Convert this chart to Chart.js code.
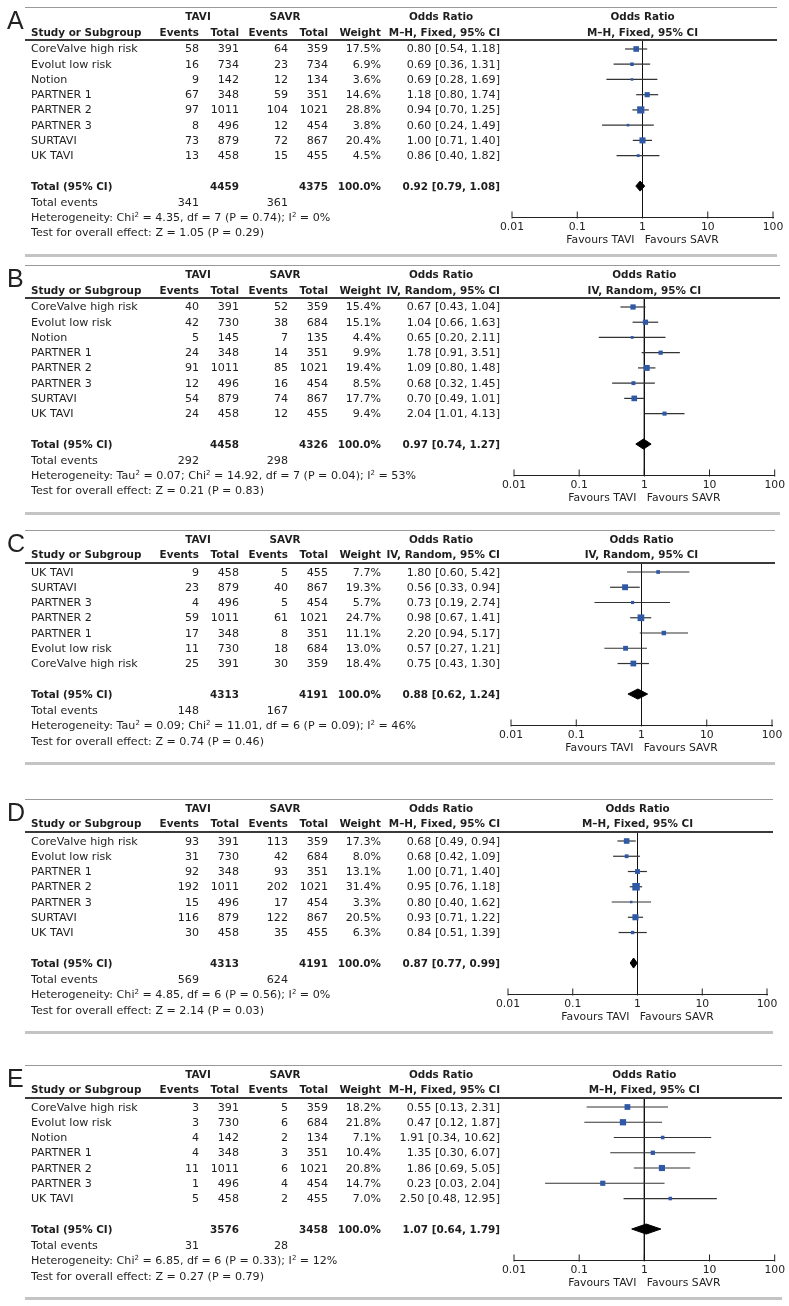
<!DOCTYPE html>
<html>
<head>
<meta charset="utf-8">
<script src="https://cdn.jsdelivr.net/npm/chart.js@4.4.0/dist/chart.umd.min.js"></script>
<style>
  body { margin: 0; background: #fff; }
  #page { position: relative; width: 789px; height: 1306px; overflow: hidden;
          font-family: "DejaVu Sans", sans-serif; font-size: 11.1px; color: #1e1e1e; }
  .t { position: absolute; white-space: nowrap; line-height: 13px; height: 13px; }
  .b { font-weight: bold; font-size: 10.4px; }
  .rule { position: absolute; }
  canvas { position: absolute; left: 0; }
  sup { font-size: 7px; line-height: 0; vertical-align: 4px; }
  .letter { position: absolute; font-family: "Liberation Sans", sans-serif; font-size: 25px; line-height: 26px; color: #222; }
</style>
</head>
<body>
<div id="page"></div>
<script>
// panel data, one inner list per panel (A..E)
const panelLetters = ['A', 'B', 'C', 'D', 'E'];
const methods = ['M\u2013H, Fixed, 95% CI', 'IV, Random, 95% CI', 'IV, Random, 95% CI', 'M\u2013H, Fixed, 95% CI', 'M\u2013H, Fixed, 95% CI'];

const studyNames = [
  ['CoreValve high risk', 'Evolut low risk', 'Notion', 'PARTNER 1', 'PARTNER 2', 'PARTNER 3', 'SURTAVI', 'UK TAVI'],
  ['CoreValve high risk', 'Evolut low risk', 'Notion', 'PARTNER 1', 'PARTNER 2', 'PARTNER 3', 'SURTAVI', 'UK TAVI'],
  ['UK TAVI', 'SURTAVI', 'PARTNER 3', 'PARTNER 2', 'PARTNER 1', 'Evolut low risk', 'CoreValve high risk'],
  ['CoreValve high risk', 'Evolut low risk', 'PARTNER 1', 'PARTNER 2', 'PARTNER 3', 'SURTAVI', 'UK TAVI'],
  ['CoreValve high risk', 'Evolut low risk', 'Notion', 'PARTNER 1', 'PARTNER 2', 'PARTNER 3', 'UK TAVI']
];
const taviEvents = [
  [58, 16, 9, 67, 97, 8, 73, 13],
  [40, 42, 5, 24, 91, 12, 54, 24],
  [9, 23, 4, 59, 17, 11, 25],
  [93, 31, 92, 192, 15, 116, 30],
  [3, 3, 4, 4, 11, 1, 5]
];
const taviTotals = [
  [391, 734, 142, 348, 1011, 496, 879, 458],
  [391, 730, 145, 348, 1011, 496, 879, 458],
  [458, 879, 496, 1011, 348, 730, 391],
  [391, 730, 348, 1011, 496, 879, 458],
  [391, 730, 142, 348, 1011, 496, 458]
];
const savrEvents = [
  [64, 23, 12, 59, 104, 12, 72, 15],
  [52, 38, 7, 14, 85, 16, 74, 12],
  [5, 40, 5, 61, 8, 18, 30],
  [113, 42, 93, 202, 17, 122, 35],
  [5, 6, 2, 3, 6, 4, 2]
];
const savrTotals = [
  [359, 734, 134, 351, 1021, 454, 867, 455],
  [359, 684, 135, 351, 1021, 454, 867, 455],
  [455, 867, 454, 1021, 351, 684, 359],
  [359, 684, 351, 1021, 454, 867, 455],
  [359, 684, 134, 351, 1021, 454, 455]
];
const weights = [
  [17.5, 6.9, 3.6, 14.6, 28.8, 3.8, 20.4, 4.5],
  [15.4, 15.1, 4.4, 9.9, 19.4, 8.5, 17.7, 9.4],
  [7.7, 19.3, 5.7, 24.7, 11.1, 13.0, 18.4],
  [17.3, 8.0, 13.1, 31.4, 3.3, 20.5, 6.3],
  [18.2, 21.8, 7.1, 10.4, 20.8, 14.7, 7.0]
];
const orValues = [
  [0.80, 0.69, 0.69, 1.18, 0.94, 0.60, 1.00, 0.86],
  [0.67, 1.04, 0.65, 1.78, 1.09, 0.68, 0.70, 2.04],
  [1.80, 0.56, 0.73, 0.98, 2.20, 0.57, 0.75],
  [0.68, 0.68, 1.00, 0.95, 0.80, 0.93, 0.84],
  [0.55, 0.47, 1.91, 1.35, 1.86, 0.23, 2.50]
];
const orLow = [
  [0.54, 0.36, 0.28, 0.80, 0.70, 0.24, 0.71, 0.40],
  [0.43, 0.66, 0.20, 0.91, 0.80, 0.32, 0.49, 1.01],
  [0.60, 0.33, 0.19, 0.67, 0.94, 0.27, 0.43],
  [0.49, 0.42, 0.71, 0.76, 0.40, 0.71, 0.51],
  [0.13, 0.12, 0.34, 0.30, 0.69, 0.03, 0.48]
];
const orHigh = [
  [1.18, 1.31, 1.69, 1.74, 1.25, 1.49, 1.40, 1.82],
  [1.04, 1.63, 2.11, 3.51, 1.48, 1.45, 1.01, 4.13],
  [5.42, 0.94, 2.74, 1.41, 5.17, 1.21, 1.30],
  [0.94, 1.09, 1.40, 1.18, 1.62, 1.22, 1.39],
  [2.31, 1.87, 10.62, 6.07, 5.05, 2.04, 12.95]
];

const totalTavi = [4459, 4458, 4313, 4313, 3576];
const totalSavr = [4375, 4326, 4191, 4191, 3458];
const totalEventsTavi = [341, 292, 148, 569, 31];
const totalEventsSavr = [361, 298, 167, 624, 28];
const totalOr = [0.92, 0.97, 0.88, 0.87, 1.07];
const totalLow = [0.79, 0.74, 0.62, 0.77, 0.64];
const totalHigh = [1.08, 1.27, 1.24, 0.99, 1.79];
const heterogeneity = [
  'Heterogeneity: Chi<sup>2</sup> = 4.35, df = 7 (P = 0.74); I<sup>2</sup> = 0%',
  'Heterogeneity: Tau<sup>2</sup> = 0.07; Chi<sup>2</sup> = 14.92, df = 7 (P = 0.04); I<sup>2</sup> = 53%',
  'Heterogeneity: Tau<sup>2</sup> = 0.09; Chi<sup>2</sup> = 11.01, df = 6 (P = 0.09); I<sup>2</sup> = 46%',
  'Heterogeneity: Chi<sup>2</sup> = 4.85, df = 6 (P = 0.56); I<sup>2</sup> = 0%',
  'Heterogeneity: Chi<sup>2</sup> = 6.85, df = 6 (P = 0.33); I<sup>2</sup> = 12%'
];
const overallEffect = [
  'Test for overall effect: Z = 1.05 (P = 0.29)',
  'Test for overall effect: Z = 0.21 (P = 0.83)',
  'Test for overall effect: Z = 0.74 (P = 0.46)',
  'Test for overall effect: Z = 2.14 (P = 0.03)',
  'Test for overall effect: Z = 0.27 (P = 0.79)'
];

const tickValues = [0.01, 0.1, 1, 10, 100];
const tickLabels = ['0.01', '0.1', '1', '10', '100'];
const axisTitle = 'Favours TAVI   Favours SAVR';

// layout (pixels)
const firstRowY = [49, 307, 572, 841, 1107];
const plotLeft = [512, 514, 511, 508, 514];
const plotRight = [773, 775, 772, 767, 779];
const ruleRight = [777, 780, 775, 773, 782];
const rowGap = 15.25;
const colName = 31, colEv = 199, colTot = 239, colSEv = 288, colSTot = 328, colW = 381, colOr = 500;

const page = document.getElementById('page');

function addText(html, x, y, align, bold) {
  const d = document.createElement('div');
  d.className = 't' + (bold ? ' b' : '');
  d.innerHTML = html;
  if (align === 'right') { d.style.left = (x - 300) + 'px'; d.style.width = '300px'; d.style.textAlign = 'right'; }
  else if (align === 'center') { d.style.left = (x - 150) + 'px'; d.style.width = '300px'; d.style.textAlign = 'center'; }
  else { d.style.left = x + 'px'; }
  d.style.top = (y - 6.5) + 'px';
  page.appendChild(d);
}

function addRule(y, x1, x2, h, color) {
  const d = document.createElement('div');
  d.className = 'rule';
  d.style.left = x1 + 'px';
  d.style.width = (x2 - x1) + 'px';
  d.style.top = (y - h / 2) + 'px';
  d.style.height = h + 'px';
  d.style.background = color;
  page.appendChild(d);
}

const fmtOr = (e, l, h) => e.toFixed(2) + ' [' + l.toFixed(2) + ', ' + h.toFixed(2) + ']';

panelLetters.forEach((letter, p) => {
  const n = studyNames[p].length;
  const first = firstRowY[p];
  const canvasTop = first - 42;
  const yMin = -9 / rowGap;
  const yMax = n + 3.03;
  const axisY = first + yMax * rowGap;
  const canvasH = Math.round(axisY - canvasTop + 30);
  const totalRow = n + 1;

  const canvas = document.createElement('canvas');
  canvas.width = 789;
  canvas.height = canvasH;
  canvas.style.top = canvasTop + 'px';
  page.appendChild(canvas);

  const datasets = [];
  // study boxes, sized by weight
  datasets.push({
    type: 'scatter',
    data: orValues[p].map((v, i) => ({ x: v, y: i })),
    pointStyle: 'rect',
    pointRadius: weights[p].map(w => Math.sqrt(w) * 0.95),
    backgroundColor: '#2f59a6',
    borderWidth: 0,
    order: 0
  });
  // pooled diamond
  const dh = 0.33;
  datasets.push({
    type: 'line',
    data: [
      { x: totalLow[p], y: totalRow },
      { x: totalOr[p], y: totalRow - dh },
      { x: totalHigh[p], y: totalRow },
      { x: totalOr[p], y: totalRow + dh },
      { x: totalLow[p], y: totalRow }
    ],
    borderColor: '#000',
    backgroundColor: '#000',
    borderWidth: 1,
    pointRadius: 0,
    fill: 'shape',
    order: 1
  });
  // confidence intervals
  orValues[p].forEach((v, i) => {
    datasets.push({
      type: 'line',
      data: [{ x: orLow[p][i], y: i }, { x: orHigh[p][i], y: i }],
      borderColor: '#333',
      borderWidth: 1.2,
      pointRadius: 0,
      order: 2
    });
  });
  // line of no effect
  datasets.push({
    type: 'line',
    data: [{ x: 1, y: yMin }, { x: 1, y: yMax }],
    borderColor: '#111',
    borderWidth: 1,
    pointRadius: 0,
    order: 3
  });
  // axis tick marks, sitting mostly above the axis line
  datasets.push({
    type: 'scatter',
    data: tickValues.map(v => ({ x: v, y: yMax - 2 / rowGap })),
    pointStyle: 'line',
    rotation: 90,
    pointRadius: 3.5,
    borderColor: '#222',
    borderWidth: 1,
    order: 4
  });

  const chart = new Chart(canvas, {
    type: 'scatter',
    data: { datasets },
    options: {
      responsive: false,
      animation: false,
      events: [],
      clip: false,
      layout: { padding: { left: plotLeft[p], right: 789 - plotRight[p], top: 33, bottom: 0 } },
      plugins: { legend: { display: false }, tooltip: { enabled: false } },
      scales: {
        x: {
          type: 'logarithmic',
          min: 0.01,
          max: 100,
          afterBuildTicks: s => { s.ticks = tickValues.map(v => ({ value: v })); },
          afterFit: s => { s.height = 30; },
          ticks: {
            callback: (v, i) => tickLabels[i],
            autoSkip: false,
            maxRotation: 0,
            padding: 4,
            color: '#222',
            font: { family: 'DejaVu Sans', size: 10.8 }
          },
          grid: { display: false, drawTicks: false, tickLength: 0 },
          border: { display: true, color: '#222', width: 1 },
          title: {
            display: true,
            text: axisTitle,
            color: '#222',
            padding: 0,
            font: { family: 'DejaVu Sans', size: 10.8 }
          }
        },
        y: { type: 'linear', reverse: true, min: yMin, max: yMax, display: false }
      }
    }
  });

  const ys = v => chart.scales.y.getPixelForValue(v) + canvasTop;
  const plotCenter = chart.scales.x.getPixelForValue(1);

  // rules
  addRule(canvasTop, 25, ruleRight[p], 1, '#9a9a9a');
  addRule(ys(yMin), 25, ruleRight[p], 1.6, '#3a3a3a');
  addRule(ys(totalRow) + 69, 25, ruleRight[p], 3, '#c4c4c4');

  // panel letter
  const L = document.createElement('div');
  L.className = 'letter';
  L.textContent = letter;
  L.style.left = '7px';
  L.style.top = (first - 29 - 13) + 'px';
  page.appendChild(L);

  // header
  const h1 = ys(-32.5 / rowGap), h2 = ys(-17 / rowGap);
  addText('TAVI', 198, h1, 'center', true);
  addText('SAVR', 285, h1, 'center', true);
  addText('Odds Ratio', 441, h1, 'center', true);
  addText('Odds Ratio', plotCenter, h1, 'center', true);
  addText('Study or Subgroup', colName, h2, 'left', true);
  addText('Events', colEv, h2, 'right', true);
  addText('Total', colTot, h2, 'right', true);
  addText('Events', colSEv, h2, 'right', true);
  addText('Total', colSTot, h2, 'right', true);
  addText('Weight', colW, h2, 'right', true);
  addText(methods[p], colOr, h2, 'right', true);
  addText(methods[p], plotCenter, h2, 'center', true);

  // study rows
  studyNames[p].forEach((name, i) => {
    const y = ys(i);
    addText(name, colName, y, 'left');
    addText(String(taviEvents[p][i]), colEv, y, 'right');
    addText(String(taviTotals[p][i]), colTot, y, 'right');
    addText(String(savrEvents[p][i]), colSEv, y, 'right');
    addText(String(savrTotals[p][i]), colSTot, y, 'right');
    addText(weights[p][i].toFixed(1) + '%', colW, y, 'right');
    addText(fmtOr(orValues[p][i], orLow[p][i], orHigh[p][i]), colOr, y, 'right');
  });

  // totals and footer lines
  const yt = ys(totalRow);
  addText('Total (95% CI)', colName, yt, 'left', true);
  addText(String(totalTavi[p]), colTot, yt, 'right', true);
  addText(String(totalSavr[p]), colSTot, yt, 'right', true);
  addText('100.0%', colW, yt, 'right', true);
  addText(fmtOr(totalOr[p], totalLow[p], totalHigh[p]), colOr, yt, 'right', true);
  addText('Total events', colName, ys(n + 2.05), 'left');
  addText(String(totalEventsTavi[p]), colEv, ys(n + 2.05), 'right');
  addText(String(totalEventsSavr[p]), colSEv, ys(n + 2.05), 'right');
  addText(heterogeneity[p], colName, ys(n + 3.05), 'left');
  addText(overallEffect[p], colName, ys(n + 4.08), 'left');
});
</script>
</body>
</html>
